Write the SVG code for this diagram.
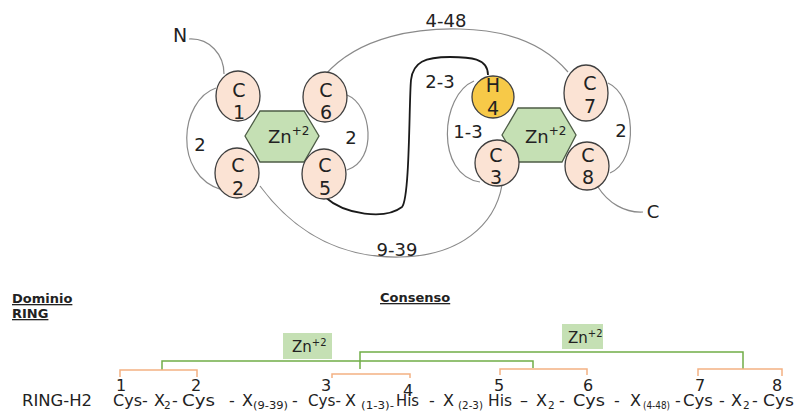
<svg xmlns="http://www.w3.org/2000/svg" width="802" height="412" viewBox="0 0 802 412">
<style>
.arc{fill:none;stroke:#8a8a8a;stroke-width:1.2}
.s{fill:none;stroke:#1a1a1a;stroke-width:1.8}
.cy{fill:#FBE3D4;stroke:#3f3f3f;stroke-width:1.3}
.hi{fill:#F7C948;stroke:#3f3f3f;stroke-width:1.3}
.hex{fill:#C5E0B4;stroke:#4d5c46;stroke-width:1.3}
.t{font-family:"DejaVu Sans",sans-serif;fill:#222}
.c{font-size:19px;text-anchor:middle}
.lb{font-size:18px;text-anchor:middle}
.sq{font-size:16px}
.sb{font-size:10.5px}
.nm{font-size:16px;text-anchor:middle}
.hd{font-size:13px;font-weight:bold;text-decoration:underline}
.g{fill:none;stroke:#70AD47;stroke-width:1.5}
.o{fill:none;stroke:#F4B183;stroke-width:1.5}
.box{fill:#C5E0B4}
</style>
<rect width="802" height="412" fill="#ffffff"/>
<g id="connectors">
<path class="arc" d="M189 39 C210 38 224 55 224 74"/>
<path class="arc" d="M216 88 C180 100 172 175 222 190"/>
<path class="arc" d="M347 95 C372 105 378 160 347 170"/>
<path class="arc" d="M325 75 C360 35 420 28 460 29 C510 30 545 45 568 72"/>
<path class="arc" d="M260 186 C300 240 350 258 400 257 C460 256 495 225 502 185"/>
<path class="arc" d="M474 81 C440 95 435 175 480 182"/>
<path class="arc" d="M608 83 C635 95 640 160 610 173"/>
<path class="arc" d="M598 187 C608 203 625 213 643 212"/>
<path class="s" d="M325 197 C345 215 385 220 402 207 C410 198 409 100 411 80 C413 62 425 57 450 57 C470 57 488 58 488 75"/>
<path class="g" d="M162 370 V361 H533 V368"/>
<path class="g" d="M360 369 V352 H743 V369"/>
<path class="o" d="M120 377 V370 H197 V377"/>
<path class="o" d="M332 378 V374 H410 V378"/>
<path class="o" d="M500 375 V369 H587 V375"/>
<path class="o" d="M698 376 V369 H782 V376"/>
</g>
<g id="labels">
<text class="t" x="180" y="42" font-size="19" text-anchor="middle">N</text>
<text class="t" x="653" y="218" font-size="18" text-anchor="middle">C</text>
<text class="t lb" x="446" y="27">4-48</text>
<text class="t lb" x="397" y="256">9-39</text>
<text class="t lb" x="440" y="88">2-3</text>
<text class="t lb" x="468" y="138">1-3</text>
<text class="t lb" x="200" y="151">2</text>
<text class="t lb" x="351" y="144">2</text>
<text class="t lb" x="621" y="137">2</text>
</g>
<g id="zn1">
<polygon class="hex" points="245,136 260,111 304,111 319,136 304,162 260,162"/>
<text class="t" x="268" y="143" font-size="18">Zn<tspan font-size="12" dy="-8">+2</tspan></text>
</g>
<g id="zn2">
<polygon class="hex" points="502,135 518,108 560,108 576,135 562,162 518,162"/>
<text class="t" x="525" y="143" font-size="18">Zn<tspan font-size="12" dy="-8">+2</tspan></text>
</g>
<g id="c1"><ellipse class="cy" cx="238" cy="96" rx="22" ry="25"/><text class="t c" x="239" y="97">C</text><text class="t c" x="239" y="119">1</text></g>
<g id="c2"><ellipse class="cy" cx="237" cy="173" rx="22" ry="25"/><text class="t c" x="238" y="172">C</text><text class="t c" x="238" y="195">2</text></g>
<g id="c6"><ellipse class="cy" cx="325" cy="97" rx="22" ry="25"/><text class="t c" x="326" y="97">C</text><text class="t c" x="326" y="119">6</text></g>
<g id="c5"><ellipse class="cy" cx="324" cy="174" rx="22" ry="25"/><text class="t c" x="325" y="172">C</text><text class="t c" x="325" y="195">5</text></g>
<g id="h4"><ellipse class="hi" cx="493" cy="97" rx="21" ry="21"/><text class="t c" x="493" y="92">H</text><text class="t c" x="493" y="115">4</text></g>
<g id="c3"><ellipse class="cy" cx="497" cy="163" rx="22" ry="23"/><text class="t c" x="496" y="162">C</text><text class="t c" x="496" y="184">3</text></g>
<g id="c7"><ellipse class="cy" cx="586" cy="93" rx="22" ry="28"/><text class="t c" x="590" y="90">C</text><text class="t c" x="590" y="113">7</text></g>
<g id="c8"><ellipse class="cy" cx="587" cy="166" rx="22" ry="24"/><text class="t c" x="588" y="162">C</text><text class="t c" x="588" y="184">8</text></g>
<g id="headers">
<text class="t hd" x="12" y="303">Dominio</text>
<text class="t hd" x="12" y="318">RING</text>
<text class="t hd" x="380" y="302">Consenso</text>
</g>
<g id="znbox1"><rect class="box" x="283" y="333" width="49" height="26"/><text class="t" x="292" y="352" font-size="15">Zn<tspan font-size="10" dy="-6">+2</tspan></text></g>
<g id="znbox2"><rect class="box" x="562" y="324" width="41" height="25"/><text class="t" x="568" y="343" font-size="15">Zn<tspan font-size="10" dy="-6">+2</tspan></text></g>
<g id="numbers">
<text class="t nm" x="121" y="391">1</text>
<text class="t nm" x="196" y="391">2</text>
<text class="t nm" x="326" y="391">3</text>
<text class="t nm" x="408" y="396">4</text>
<text class="t nm" x="499" y="391">5</text>
<text class="t nm" x="588" y="391">6</text>
<text class="t nm" x="700" y="391">7</text>
<text class="t nm" x="777" y="391">8</text>
</g>
<g id="sequence">
<text class="t sq" x="22" y="406" textLength="70" lengthAdjust="spacingAndGlyphs">RING-H2</text>
<text class="t sq" x="113" y="406">Cys-</text>
<text class="t sq" x="154" y="406">X</text><text class="t sb" x="164" y="409">2</text><text class="t sq" x="172" y="406">-</text>
<text class="t sq" x="182" y="406" textLength="33" lengthAdjust="spacingAndGlyphs">Cys</text>
<text class="t sq" x="229" y="406">-</text>
<text class="t sq" x="242" y="406">X</text><text class="t sb" x="253" y="409" textLength="35" lengthAdjust="spacingAndGlyphs">(9-39)</text><text class="t sq" x="292" y="406">-</text>
<text class="t sq" x="308" y="406" textLength="33" lengthAdjust="spacingAndGlyphs">Cys-</text>
<text class="t sq" x="345" y="406">X</text><text class="t sb" x="361" y="409" textLength="33" lengthAdjust="spacingAndGlyphs">(1-3)-</text>
<text class="t sq" x="396" y="406" textLength="23" lengthAdjust="spacingAndGlyphs">His</text>
<text class="t sq" x="429" y="406">-</text>
<text class="t sq" x="443" y="406">X</text><text class="t sb" x="458" y="409" textLength="25" lengthAdjust="spacingAndGlyphs">(2-3)</text>
<text class="t sq" x="488" y="406" textLength="24" lengthAdjust="spacingAndGlyphs">His</text>
<text class="t sq" x="520" y="406">–</text><text class="t sq" x="536" y="406">X</text><text class="t sb" x="548" y="409">2</text><text class="t sq" x="559" y="406">-</text>
<text class="t sq" x="573" y="406" textLength="32" lengthAdjust="spacingAndGlyphs">Cys</text>
<text class="t sq" x="614" y="406">-</text>
<text class="t sq" x="630" y="406">X</text><text class="t sb" x="643" y="409" textLength="27" lengthAdjust="spacingAndGlyphs">(4-48)</text>
<text class="t sq" x="675" y="406">-</text>
<text class="t sq" x="683" y="406" textLength="30" lengthAdjust="spacingAndGlyphs">Cys</text>
<text class="t sq" x="719" y="406">-</text>
<text class="t sq" x="731" y="406">X</text><text class="t sb" x="743" y="409">2</text><text class="t sq" x="752" y="406">-</text>
<text class="t sq" x="763" y="406" textLength="31" lengthAdjust="spacingAndGlyphs">Cys</text>
</g>
</svg>
